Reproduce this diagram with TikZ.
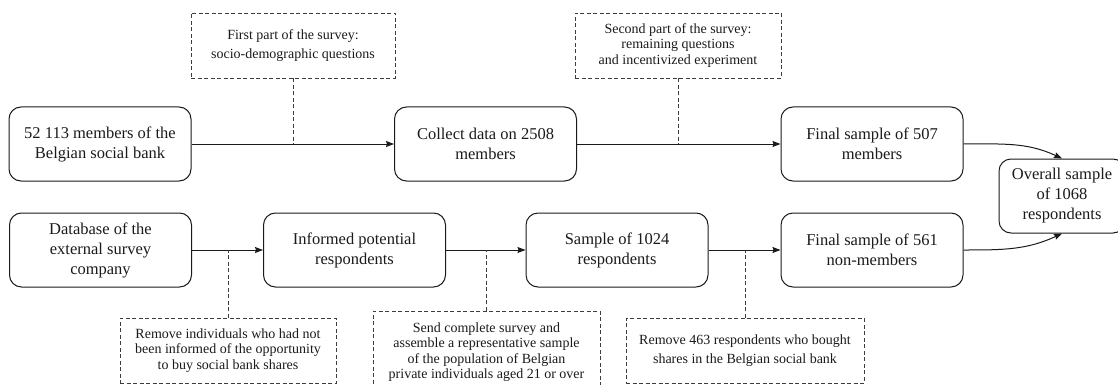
\documentclass[tikz,border=0pt]{standalone}
\usepackage{fontspec}
\setmainfont{Liberation Serif}
\usetikzlibrary{positioning,arrows.meta,calc}
\definecolor{ink}{HTML}{1A1A1A}
\tikzset{
  >=stealth,
  % --- nodes
  stage/.style = {rounded corners=12pt, draw=ink, line width=1pt, align=center,
                  minimum width=182pt, minimum height=74pt, inner sep=2pt,
                  font=\fontsize{16.5}{20}\selectfont, text=ink},
  note/.style  = {draw=ink!85, line width=0.8pt, dash pattern=on 4pt off 2.5pt,
                  align=center, inner sep=2pt, minimum height=65pt,
                  font=\fontsize{14}{15.5}\selectfont, text=ink},
  note2/.style = {note, font=\fontsize{14}{19}\selectfont},
  % --- edges
  e/.style     = {-{Stealth[length=8pt,width=6pt,inset=1pt]}, line width=1pt, draw=ink},
  link/.style  = {draw=ink!85, line width=0.8pt, dash pattern=on 4pt off 2.5pt},
}

\begin{document}
\begin{tikzpicture}[x=1pt,y=-1pt]
  \useasboundingbox (0,0) rectangle (1118,385);
  % members path
  \node[stage] (mem)  at (100,144)   {52 113 members of the\\Belgian social bank};
  \node[stage] (coll) at (485.5,144) {Collect data on 2508\\members};
  \node[stage] (fmem) at (872,144)   {Final sample of 507\\members};
  % non-members path
  \node[stage] (db)   at (100.5,250) {Database of the\\external survey\\company};
  \node[stage] (inf)  at (354.5,250) {Informed potential\\respondents};
  \node[stage] (smp)  at (617,250)   {Sample of 1024\\respondents};
  \node[stage] (fnon) at (872,250)   {Final sample of 561\\non-members};
  \node[stage, minimum width=126pt] (all) at (1062,196) {Overall sample\\of 1068\\respondents};
  % notes
  \node[note2, minimum width=204pt] (n1) at (293,45.5)  {First part of the survey:\\socio-demographic questions};
  \node[note,  minimum width=206pt] (n2) at (678,45.5)  {Second part of the survey:\\remaining questions\\and incentivized experiment};
  \node[note,  minimum width=216pt] (n3) at (228,350.5) {Remove individuals who had not\\been informed of the opportunity\\to buy social bank shares};
  \node[note,  minimum width=227pt, minimum height=82pt] (n4) at (486.5,352)
        {Send complete survey and\\assemble a representative sample\\of the population of Belgian\\private individuals aged 21 or over};
  \node[note2, minimum width=238pt] (n5) at (745,350.5) {Remove 463 respondents who bought\\shares in the Belgian social bank};

  \draw[e] (mem) -- (coll); \draw[e] (coll) -- (fmem);
  \draw[e] (db) -- (inf); \draw[e] (inf) -- (smp); \draw[e] (smp) -- (fnon);
  \draw[e] (fmem.east) to[out=0,in=155] (all.north);
  \draw[e] (fnon.east) to[out=0,in=-155] (all.south);

  \draw[link] (n1.south) -- (n1.south |- mem.east);
  \draw[link] (n2.south) -- (n2.south |- coll.east);
  \draw[link] (n3.north) -- (n3.north |- db.east);
  \draw[link] (n4.north) -- (n4.north |- inf.east);
  \draw[link] (n5.north) -- (n5.north |- smp.east);
\end{tikzpicture}
\end{document}
